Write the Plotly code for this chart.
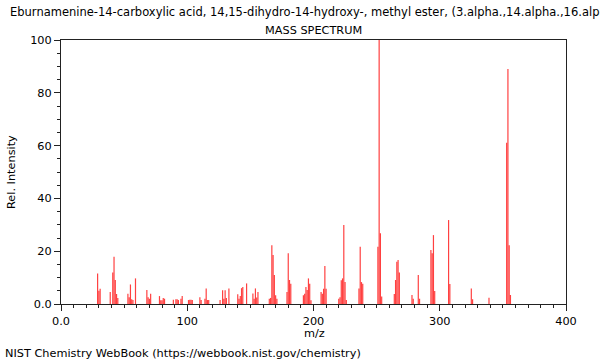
import plotly.graph_objects as go

mz = [29, 30, 31, 39, 41, 42, 43, 44, 45, 53, 54, 55, 56, 57, 59, 68, 69, 70, 71,
      78, 79, 80, 81, 82, 89, 91, 92, 93, 95, 96, 101, 102, 103, 104, 110, 111,
      114, 115, 116, 117, 126, 128, 129, 130, 131, 133, 140, 141, 142, 143, 144,
      147, 152, 153, 154, 155, 156, 165, 166, 167, 168, 169, 170, 171, 179, 180,
      181, 182, 192, 193, 194, 195, 196, 197, 198, 206, 207, 208, 209, 210, 220,
      221, 222, 223, 224, 225, 226, 236, 237, 238, 239, 251, 252, 253, 254, 264,
      265, 266, 267, 268, 278, 279, 283, 284, 293, 294, 295, 296, 307, 308, 325,
      326, 339, 353, 354, 355, 356]
intensity = [11.6, 5.0, 5.8, 4.5, 11.9, 17.9, 9.1, 3.8, 2.3, 3.9, 2.6, 7.4, 1.8, 1.5,
             9.7, 5.3, 2.6, 2.0, 3.9, 3.0, 1.4, 1.4, 2.3, 2.0, 1.6, 1.8, 1.8, 1.5,
             2.0, 3.0, 1.5, 1.6, 1.6, 1.5, 2.6, 1.5, 2.0, 5.9, 1.5, 1.5, 1.5, 5.2,
             2.0, 5.2, 2.3, 5.9, 3.7, 2.0, 3.0, 6.0, 6.4, 7.8, 4.0, 2.0, 5.9, 2.5,
             4.5, 2.0, 2.3, 22.3, 18.6, 11.0, 3.3, 2.0, 4.5, 19.2, 9.1, 7.7, 3.3,
             3.9, 6.4, 5.3, 9.7, 7.7, 1.4, 4.5, 3.9, 5.8, 14.4, 5.8, 2.0, 2.6, 9.0,
             9.7, 29.9, 8.3, 1.5, 5.9, 21.7, 8.3, 7.7, 21.7, 100.0, 26.8, 2.8, 3.8,
             9.1, 16.0, 16.7, 11.9, 3.4, 2.0, 11.0, 2.0, 20.5, 19.2, 26.1, 4.9,
             31.8, 7.6, 5.9, 1.8, 2.4, 61.1, 89.0, 22.3, 3.4]

x_ticks = [0, 100, 200, 300, 400]
x_ticktext = ["0.0", "100", "200", "300", "400"]
y_ticks = [0, 20, 40, 60, 80, 100]
y_ticktext = ["0.0", "20", "40", "60", "80", "100"]

title_text = ("Eburnamenine-14-carboxylic acid, 14,15-dihydro-14-hydroxy-, methyl ester, "
              "(3.alpha.,14.alpha.,16.alpha.)-")
subtitle_text = "MASS SPECTRUM"
x_label = "m/z"
y_label = "Rel. Intensity"
footer_text = "NIST Chemistry WebBook (https://webbook.nist.gov/chemistry)"

xs, ys = [], []
for m, v in zip(mz, intensity):
    xs += [m, m, None]
    ys += [0, v, None]

fig = go.Figure()
fig.add_trace(go.Scatter(x=xs, y=ys, mode="lines",
                         line=dict(color="rgba(255,0,0,0.75)", width=1.2),
                         hoverinfo="skip", showlegend=False))

W, H = 600, 360
L, R, T, B = 61, 566, 40, 304
pw, ph = R - L, B - T

def px(x):
    return (x - L) / pw

def py(y):
    return (B - y) / ph

font = dict(family="DejaVu Sans", size=11.3, color="#000000")
title_font = dict(family="DejaVu Sans", size=11.5, color="#000000")

axis_common = dict(showgrid=False, zeroline=False, showline=True, linecolor="#222222",
                   linewidth=1, mirror=True, ticks="outside", ticklen=6,
                   tickcolor="#222222", tickwidth=1, tickfont=font)

fig.update_layout(
    width=W, height=H,
    margin=dict(l=L, r=W - R, t=T, b=H - B, pad=0),
    paper_bgcolor="white", plot_bgcolor="white",
    font=font,
    xaxis=dict(range=[0, 400], tickvals=x_ticks, ticktext=x_ticktext,
               minor=dict(dtick=10, ticklen=3, tickcolor="#222222", ticks="outside"),
               **axis_common),
    yaxis=dict(range=[0, 100], tickvals=y_ticks, ticktext=y_ticktext,
               minor=dict(dtick=5, ticklen=3, tickcolor="#222222", ticks="outside"),
               **axis_common),
    annotations=[
        dict(text=title_text, x=px(318), y=py(12), xref="paper", yref="paper",
             xanchor="center", yanchor="middle", showarrow=False, font=title_font),
        dict(text=subtitle_text, x=0.5, y=py(30), xref="paper", yref="paper",
             xanchor="center", yanchor="middle", showarrow=False, font=font),
        dict(text=x_label, x=px(314), y=py(333), xref="paper", yref="paper",
             xanchor="center", yanchor="middle", showarrow=False, font=font),
        dict(text=y_label, x=px(11), y=py(172), xref="paper", yref="paper",
             xanchor="center", yanchor="middle", showarrow=False, font=font,
             textangle=-90),
        dict(text=footer_text, x=px(3), y=py(353), xref="paper", yref="paper",
             xanchor="left", yanchor="middle", showarrow=False, font=font),
    ],
)

fig.write_html("out.html")
